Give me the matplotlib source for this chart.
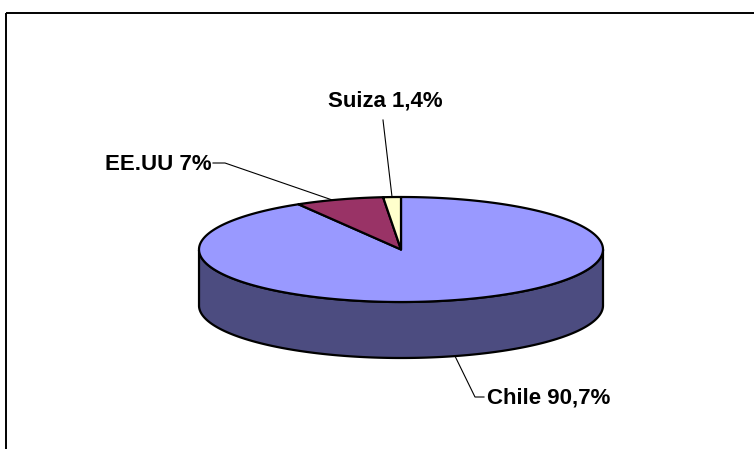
"""
3D-style pie (Excel look): country share, Chile / EE.UU / Suiza.
"""

import matplotlib

matplotlib.use("Agg")
import matplotlib.pyplot as plt
import numpy as np
from matplotlib.patches import Polygon, Rectangle

countries = ["Chile", "EE.UU", "Suiza"]
shares = [90.7, 7.0, 1.4]
top_colors = ["#9999FF", "#993366", "#FFFFCC"]
side_colors = ["#4C4C80", "#4D1A33", "#808066"]

W, H = 754, 449
CX, CY = 401, 249.5  # top ellipse centre (pixels)
A, B = 202, 52.5  # semi-axes
DEPTH = 56


def ell(t_deg, dy=0.0):
    t = np.radians(t_deg)
    return CX + A * np.cos(t), CY - B * np.sin(t) + dy


def main() -> None:
    plt.rcParams["font.family"] = ["Liberation Sans", "DejaVu Sans"]
    fig = plt.figure(figsize=(W / 100, H / 100), dpi=100)
    ax = fig.add_axes((0, 0, 1, 1))
    ax.set_xlim(0, W)
    ax.set_ylim(H, 0)
    ax.axis("off")

    # chart frame: only top and left edges fall inside the picture
    ax.add_patch(Rectangle((6, 13), W + 50, H + 50, fill=False, ec="black", lw=1.4))

    vals = np.array(shares, dtype=float)
    sweep = vals / vals.sum() * 360.0
    starts = 90.0 - np.concatenate([[0.0], np.cumsum(sweep)[:-1]])
    ends = starts - sweep

    # side wall (front half, 180..360 deg)
    for s, e, col in zip(starts, ends, side_colors):
        ts = np.linspace(e, s, 400) % 360
        front = ts[(ts >= 180) & (ts <= 360)]
        if front.size < 2:
            continue
        front = np.sort(front)
        top_x, top_y = ell(front)
        bot_x, bot_y = ell(front[::-1], DEPTH)
        pts = np.column_stack([np.r_[top_x, bot_x], np.r_[top_y, bot_y]])
        ax.add_patch(Polygon(pts, closed=True, fc=col, ec="black", lw=1.6, joinstyle="round"))

    # top faces
    for s, e, col in zip(starts, ends, top_colors):
        ts = np.linspace(s, e, 300)
        x, y = ell(ts)
        pts = np.column_stack([np.r_[CX, x], np.r_[CY, y]])
        ax.add_patch(Polygon(pts, closed=True, fc=col, ec="black", lw=1.6, joinstyle="round"))

    labels = [f"{c} " + f"{v:g}".replace(".", ",") + "%" for c, v in zip(countries, shares)]
    fs = 16

    # Chile: leader from bottom rim down-right to label
    px, py = ell(-74.5, DEPTH)
    ax.plot([px, 475, 484], [py, 397, 397], color="black", lw=0.8)
    ax.text(487, 398, labels[0], fontsize=fs, fontweight="bold", ha="left", va="center")

    # EE.UU: leader from slice top to label on the left
    mid = (starts[1] + ends[1]) / 2
    px, py = ell(mid + 2)
    ax.plot([px, 225, 213], [py, 163, 163], color="black", lw=0.8)
    ax.text(212, 164, labels[1], fontsize=fs, fontweight="bold", ha="right", va="center")

    # Suiza: leader straight up
    mid = (starts[2] + ends[2]) / 2
    px, py = ell(mid)
    ax.plot([px, 383], [py, 120], color="black", lw=0.8)
    ax.text(385, 101, labels[2], fontsize=fs, fontweight="bold", ha="center", va="center")

    fig.savefig("out.png", dpi=100)
    plt.close(fig)


if __name__ == "__main__":
    main()
